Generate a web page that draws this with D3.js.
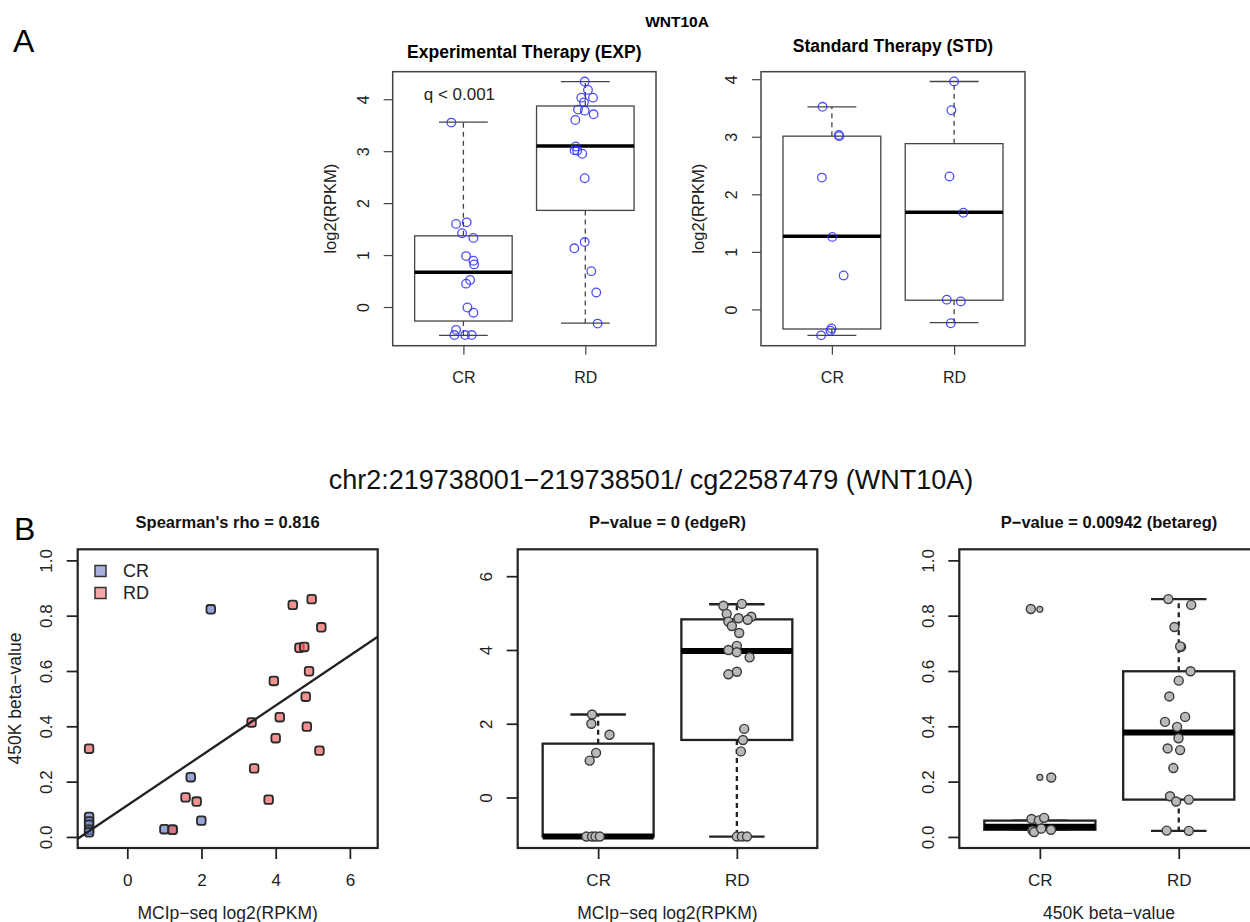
<!DOCTYPE html>
<html>
<head>
<meta charset="utf-8">
<script src="https://cdn.jsdelivr.net/npm/d3@7"></script>
<style>
body { margin: 0; background: #fff; }
text { font-family: "Liberation Sans", Arial, sans-serif; }
</style>
</head>
<body>
<script>
// ---- data ----
var groups = ["CR", "RD"]

// panel A, experimental therapy
var expCR = [3.55, 1.60, 1.63, 1.42, 1.33, 0.98, 0.89, 0.82, 0.52, 0.45, -0.01, -0.11, -0.44, -0.54, -0.54, -0.54]
var expCRJit = [-0.099, -0.060, 0.027, -0.011, 0.082, 0.022, 0.082, 0.088, 0.055, 0.022, 0.033, 0.082, -0.060, -0.074, 0.014, 0.068]
var expRD = [4.34, 4.18, 4.03, 4.03, 3.94, 3.80, 3.78, 3.71, 3.60, 3.09, 3.02, 3.01, 2.95, 2.48, 1.25, 1.13, 0.69, 0.28, -0.32]
var expRDJit = [-0.005, 0.022, -0.033, 0.063, -0.011, -0.060, -0.005, 0.068, -0.082, -0.079, -0.088, -0.066, -0.025, -0.005, -0.005, -0.090, 0.049, 0.090, 0.101]
// box stats: lower whisker, q1, median, q3, upper whisker
var expBoxCR = [-0.545, -0.27, 0.67, 1.37, 3.56]
var expBoxRD = [-0.31, 1.86, 3.10, 3.87, 4.34]

// panel A, standard therapy
var stdCR = [3.52, 3.03, 3.01, 2.29, 1.26, 0.59, -0.33, -0.37, -0.45]
var stdCRJit = [-0.076, 0.057, 0.060, -0.082, 0.003, 0.096, -0.003, -0.011, -0.088]
var stdRD = [3.96, 3.46, 2.31, 1.68, 0.17, 0.14, -0.24]
var stdRDJit = [0, -0.022, -0.038, 0.076, -0.060, 0.055, -0.027]
var stdBoxCR = [-0.45, -0.34, 1.27, 3.01, 3.52]
var stdBoxRD = [-0.23, 0.16, 1.69, 2.88, 3.96]

// panel B, scatter (MCIp-seq x, 450K beta y)
var scatCRx = [-1.03, -1.03, -1.03, -1.03, -1.03, 1.0, 1.22, 1.995, 1.71, 2.25]
var scatCRy = [0.072, 0.056, 0.044, 0.026, 0.017, 0.028, 0.026, 0.059, 0.216, 0.823]
var scatRDx = [-1.03, 1.22, 1.57, 1.87, 3.35, 3.42, 3.81, 3.95, 4.0, 4.11, 4.46, 4.64, 4.77, 4.81, 4.84, 4.9, 4.97, 5.18, 5.23]
var scatRDy = [0.319, 0.026, 0.143, 0.128, 0.414, 0.248, 0.135, 0.564, 0.357, 0.433, 0.839, 0.684, 0.687, 0.507, 0.399, 0.599, 0.860, 0.312, 0.758]
var lmCoef = [0.114, 0.0903]   // intercept, slope

// panel B, MCIp-seq boxplot
var mciCR = [2.25, 2.0, 1.70, 1.21, 1.0, -1.06, -1.06, -1.06, -1.06]
var mciCRJit = [-0.044, -0.049, 0.082, -0.015, -0.061, -0.085, -0.044, -0.019, 0.012]
var mciRD = [5.20, 5.25, 4.98, 4.86, 4.90, 4.82, 4.77, 4.65, 4.46, 4.11, 4.00, 3.94, 3.80, 3.41, 3.34, 1.86, 1.56, 1.25, -1.06, -1.06, -1.06]
var mciRDJit = [-0.097, 0.036, -0.073, 0.012, 0.104, 0.078, -0.061, -0.036, 0.017, 0, -0.061, 0, 0.092, 0, -0.061, 0.053, 0.044, 0.029, 0, 0.036, 0.073]
var mciBoxCR = [-1.06, -1.06, -1.06, 1.46, 2.25]
var mciBoxRD = [-1.06, 1.56, 3.97, 4.83, 5.24]

// panel B, 450K beta boxplot
var betaCR = [0.824, 0.215, 0.065, 0.060, 0.069, 0.023, 0.018, 0.026, 0.030]
var betaCRJit = [-0.065, 0.082, -0.060, -0.007, 0.031, -0.053, -0.041, 0.080, 0.010]
var betaCROut = [0.823, 0.215]
var betaRD = [0.860, 0.839, 0.759, 0.687, 0.689, 0.599, 0.565, 0.508, 0.434, 0.416, 0.398, 0.357, 0.320, 0.314, 0.249, 0.147, 0.128, 0.135, 0.023, 0.022]
var betaRDJit = [-0.075, 0.090, -0.031, 0.017, 0.010, 0.085, 0, -0.068, 0.046, -0.099, -0.012, -0.002, -0.080, 0.010, -0.039, -0.063, -0.019, 0.073, -0.087, 0.073]
var betaBoxCR = [0.026, 0.026, 0.037, 0.059, 0.059]
var betaBoxRD = [0.022, 0.135, 0.378, 0.599, 0.86]

// ---- drawing ----
var svg = d3.select("body").append("svg")
    .attr("width", 1250)
    .attr("height", 922)

svg.append("rect").attr("width", 1250).attr("height", 922).attr("fill", "#fff")

//styles for the two figure halves
var styleA = {frame: "#444", frameW: 1.5, line: "#444", lineW: 1.3, medW: 3.5, tick: 9, font: 16,
              dash: "5,4", yLabOff: 24, xPad: 17}
var styleB = {frame: "#222", frameW: 2.2, line: "#222", lineW: 2.3, medW: 6, tick: 11, font: 17,
              dash: "5,4", yLabOff: 25.5, xPad: 15}

var drawAxes = function(g, xScale, yScale, box, yTicks, fmt, st, xTicks, xFmt)
{
    var ya = g.append("g")
        .attr("transform", "translate(" + box.x0 + ",0)")
        .call(d3.axisLeft(yScale).tickValues(yTicks).tickFormat(fmt).tickSize(st.tick))
    ya.select(".domain").remove()
    ya.selectAll(".tick line").attr("stroke", st.frame).attr("stroke-width", st.frameW * 0.8)
    ya.selectAll(".tick text")
        .attr("transform", "rotate(-90)")
        .attr("x", 0)
        .attr("y", -st.yLabOff)
        .attr("dy", 0)
        .attr("text-anchor", "middle")
        .attr("fill", "#222")
        .style("font-size", st.font + "px")
        .style("font-family", "Liberation Sans, Arial, sans-serif")

    var xa = g.append("g")
        .attr("transform", "translate(0," + box.y1 + ")")
        .call(d3.axisBottom(xScale).tickValues(xTicks).tickFormat(xFmt).tickSize(st.tick).tickPadding(st.xPad))
    xa.select(".domain").remove()
    xa.selectAll(".tick line").attr("stroke", st.frame).attr("stroke-width", st.frameW * 0.8)
    xa.selectAll(".tick text")
        .attr("fill", "#222")
        .style("font-size", st.font + "px")
        .style("font-family", "Liberation Sans, Arial, sans-serif")

    g.append("rect")
        .attr("x", box.x0).attr("y", box.y0)
        .attr("width", box.x1 - box.x0).attr("height", box.y1 - box.y0)
        .attr("fill", "none")
        .attr("stroke", st.frame)
        .attr("stroke-width", st.frameW)
}

// a boxplot with jittered points on top
var boxPanel = function(box, yDomain, yTicks, fmt, st, series, pointStyle)
{
    var g = svg.append("g")
    var xScale = d3.scaleLinear().domain([0.42, 2.58]).range([box.x0, box.x1])
    var yScale = d3.scaleLinear().domain(yDomain).range([box.y1, box.y0])

    series.forEach(function(s, i)
    {
        var cx = i + 1
        var b = s.box
        // whiskers
        g.append("line")
            .attr("x1", xScale(cx)).attr("x2", xScale(cx))
            .attr("y1", yScale(b[3])).attr("y2", yScale(b[4]))
            .attr("stroke", st.line).attr("stroke-width", st.lineW).attr("stroke-dasharray", st.dash)
        g.append("line")
            .attr("x1", xScale(cx)).attr("x2", xScale(cx))
            .attr("y1", yScale(b[1])).attr("y2", yScale(b[0]))
            .attr("stroke", st.line).attr("stroke-width", st.lineW).attr("stroke-dasharray", st.dash)
        // staples
        ;[b[0], b[4]].forEach(function(v)
        {
            g.append("line")
                .attr("x1", xScale(cx - 0.2)).attr("x2", xScale(cx + 0.2))
                .attr("y1", yScale(v)).attr("y2", yScale(v))
                .attr("stroke", st.line).attr("stroke-width", st.lineW)
        })
        // box
        g.append("rect")
            .attr("x", xScale(cx - 0.4))
            .attr("width", xScale(cx + 0.4) - xScale(cx - 0.4))
            .attr("y", yScale(b[3]))
            .attr("height", yScale(b[1]) - yScale(b[3]))
            .attr("fill", "#fff")
            .attr("stroke", st.line).attr("stroke-width", st.lineW)
        // median
        g.append("line")
            .attr("x1", xScale(cx - 0.4)).attr("x2", xScale(cx + 0.4))
            .attr("y1", yScale(b[2])).attr("y2", yScale(b[2]))
            .attr("stroke", st.medColor || "#000").attr("stroke-width", st.medW)
        // boxplot outliers
        if (s.out)
        {
            g.selectAll(null).data(s.out).enter().append("circle")
                .attr("cx", xScale(cx))
                .attr("cy", function(d) { return yScale(d) })
                .attr("r", 3)
                .attr("fill", pointStyle.fill)
                .attr("stroke", pointStyle.stroke)
                .attr("stroke-width", 1.2)
        }
        // jittered points
        g.selectAll(null).data(s.vals).enter().append("circle")
            .attr("cx", function(d, j) { return xScale(cx + s.jit[j]) })
            .attr("cy", function(d) { return yScale(d) })
            .attr("r", pointStyle.r)
            .attr("fill", pointStyle.fill)
            .attr("fill-opacity", pointStyle.fillOpacity)
            .attr("stroke", pointStyle.stroke)
            .attr("stroke-opacity", pointStyle.strokeOpacity)
            .attr("stroke-width", pointStyle.strokeW)
    })

    drawAxes(g, xScale, yScale, box, yTicks, fmt, st, [1, 2], function(d, i) { return groups[i] })
    return {g: g, x: xScale, y: yScale}
}

var blueOpen = {r: 4.3, fill: "none", fillOpacity: 1, stroke: "#2f2fff", strokeOpacity: 0.85, strokeW: 1.3}
var grayDot = {r: 4.5, fill: "#b9b9b9", fillOpacity: 1, stroke: "#3a3a3a", strokeOpacity: 1, strokeW: 1.4}

// ---------- panel A ----------
var boxAL = {x0: 392.7, x1: 656, y0: 71.7, y1: 345.7}
var boxAR = {x0: 761, x1: 1025, y0: 71.7, y1: 345.7}

var aLeft = boxPanel(boxAL, [-0.745, 4.53], [0, 1, 2, 3, 4], d3.format("d"), styleA,
    [{vals: expCR, jit: expCRJit, box: expBoxCR}, {vals: expRD, jit: expRDJit, box: expBoxRD}], blueOpen)
var aRight = boxPanel(boxAR, [-0.63, 4.13], [0, 1, 2, 3, 4], d3.format("d"), styleA,
    [{vals: stdCR, jit: stdCRJit, box: stdBoxCR}, {vals: stdRD, jit: stdRDJit, box: stdBoxRD}], blueOpen)

aLeft.g.append("text")
    .attr("x", aLeft.x(1) - 4).attr("y", aLeft.y(4.1)).attr("dy", "0.35em")
    .attr("text-anchor", "middle").style("font-size", "17px").attr("fill", "#222")
    .text("q < 0.001")

svg.append("text").attr("x", 677).attr("y", 26.5).attr("text-anchor", "middle")
    .style("font-size", "15.5px").style("font-weight", "bold").text("WNT10A")
svg.append("text").attr("x", 524.3).attr("y", 57.5).attr("text-anchor", "middle")
    .style("font-size", "17.5px").style("font-weight", "bold").text("Experimental Therapy (EXP)")
svg.append("text").attr("x", 893).attr("y", 52).attr("text-anchor", "middle")
    .style("font-size", "17.5px").style("font-weight", "bold").text("Standard Therapy (STD)")

;[[336, 208.7], [704, 208.7]].forEach(function(p)
{
    svg.append("text")
        .attr("transform", "translate(" + p[0] + "," + p[1] + ") rotate(-90)")
        .attr("text-anchor", "middle").style("font-size", "16.5px").attr("fill", "#222")
        .text("log2(RPKM)")
})

svg.append("text").attr("x", 13).attr("y", 52).style("font-size", "32px").text("A")

// ---------- panel B ----------
svg.append("text").attr("x", 651).attr("y", 489).attr("text-anchor", "middle")
    .style("font-size", "27px").attr("fill", "#111")
    .text("chr2:219738001\u2212219738501/ cg22587479 (WNT10A)")
svg.append("text").attr("x", 14).attr("y", 540).style("font-size", "32px").text("B")

// scatter
var boxBS = {x0: 77.7, x1: 377.7, y0: 549.3, y1: 848}
var sx = d3.scaleLinear().domain([-1.337, 6.75]).range([boxBS.x0, boxBS.x1])
var sy = d3.scaleLinear().domain([-0.04, 1.04]).range([boxBS.y1, boxBS.y0])
var gs = svg.append("g")

gs.append("clipPath").attr("id", "clipS").append("rect")
    .attr("x", boxBS.x0).attr("y", boxBS.y0)
    .attr("width", boxBS.x1 - boxBS.x0).attr("height", boxBS.y1 - boxBS.y0)

var crFill = "#7282cc", rdFill = "#ee6666"
var drawSquares = function(xs, ys, fill)
{
    gs.selectAll(null).data(xs).enter().append("rect")
        .attr("x", function(d) { return sx(d) - 4.3 })
        .attr("y", function(d, i) { return sy(ys[i]) - 4.3 })
        .attr("width", 8.6).attr("height", 8.6)
        .attr("rx", 2.5)
        .attr("fill", fill).attr("fill-opacity", 0.72)
        .attr("stroke", "#2a2a2a").attr("stroke-width", 1.8)
}
drawSquares(scatCRx, scatCRy, crFill)
drawSquares(scatRDx, scatRDy, rdFill)

gs.append("line")
    .attr("clip-path", "url(#clipS)")
    .attr("x1", sx(-1.337)).attr("y1", sy(lmCoef[0] + lmCoef[1] * -1.337))
    .attr("x2", sx(6.75)).attr("y2", sy(lmCoef[0] + lmCoef[1] * 6.75))
    .attr("stroke", "#222").attr("stroke-width", 2.3)

drawAxes(gs, sx, sy, boxBS, [0, 0.2, 0.4, 0.6, 0.8, 1.0], d3.format(".1f"), styleB, [0, 2, 4, 6], d3.format("d"))

// legend
var legend = gs.append("g")
groups.forEach(function(name, i)
{
    legend.append("rect")
        .attr("x", 95).attr("y", 565.5 + i * 22).attr("width", 11).attr("height", 11)
        .attr("fill", i == 0 ? "#a8b0da" : "#f5a7a7")
        .attr("stroke", "#333").attr("stroke-width", 1.5)
    legend.append("text")
        .attr("x", 123).attr("y", 571 + i * 22).attr("dy", "0.36em")
        .style("font-size", "18px").attr("fill", "#222")
        .text(name)
})

// boxplots
var boxBM = {x0: 517.7, x1: 817.3, y0: 549.3, y1: 848}
var boxBR = {x0: 959.3, x1: 1259.3, y0: 549.3, y1: 848}

boxPanel(boxBM, [-1.37, 6.73], [0, 2, 4, 6], d3.format("d"), styleB,
    [{vals: mciCR, jit: mciCRJit, box: mciBoxCR}, {vals: mciRD, jit: mciRDJit, box: mciBoxRD}], grayDot)
boxPanel(boxBR, [-0.04, 1.04], [0, 0.2, 0.4, 0.6, 0.8, 1.0], d3.format(".1f"), styleB,
    [{vals: betaCR, jit: betaCRJit, box: betaBoxCR, out: betaCROut}, {vals: betaRD, jit: betaRDJit, box: betaBoxRD}], grayDot)

// titles and axis titles for panel B
var bTitles = [["Spearman's rho = 0.816", 227.7], ["P\u2212value = 0 (edgeR)", 667.5], ["P\u2212value = 0.00942 (betareg)", 1109]]
bTitles.forEach(function(t)
{
    svg.append("text").attr("x", t[1]).attr("y", 528).attr("text-anchor", "middle")
        .style("font-size", "16.5px").style("font-weight", "bold").attr("fill", "#111").text(t[0])
})
var bXTitles = [["MCIp\u2212seq log2(RPKM)", 227.7], ["MCIp\u2212seq log2(RPKM)", 667.5], ["450K beta\u2212value", 1109]]
bXTitles.forEach(function(t)
{
    svg.append("text").attr("x", t[1]).attr("y", 919).attr("text-anchor", "middle")
        .style("font-size", "17.5px").attr("fill", "#222").text(t[0])
})
svg.append("text")
    .attr("transform", "translate(21,698.5) rotate(-90)")
    .attr("text-anchor", "middle").style("font-size", "17.5px").attr("fill", "#222")
    .text("450K beta\u2212value")
</script>
</body>
</html>
